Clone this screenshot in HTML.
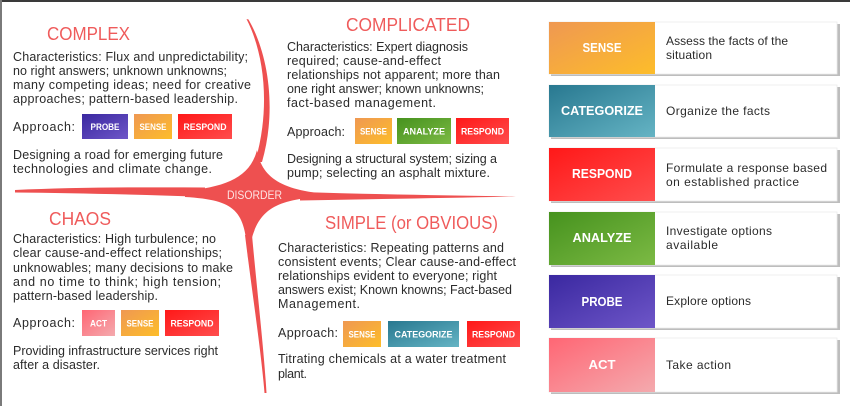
<!DOCTYPE html>
<html><head><meta charset="utf-8">
<style>
html,body{margin:0;padding:0;background:#fff;}
svg{display:block;}
text{font-family:"Liberation Sans",Arial,sans-serif;}
.b{font-size:12.5px;fill:#2b2b2b;}
.t{font-size:18px;fill:#ef5b5b;}
.s{font-size:9px;font-weight:bold;fill:#fff;}
.cl{font-size:13px;font-weight:bold;fill:#fff;}
.cd{font-size:12px;fill:#2b2b2b;}
</style></head>
<body>
<svg width="850" height="406" viewBox="0 0 850 406" xmlns="http://www.w3.org/2000/svg">
<defs>
<linearGradient id="gSense" x1="0" y1="0" x2="1" y2="1"><stop offset="0" stop-color="#ef9852"/><stop offset="1" stop-color="#fdbd2a"/></linearGradient>
<linearGradient id="gCat" x1="0" y1="0" x2="1" y2="1"><stop offset="0" stop-color="#287890"/><stop offset="1" stop-color="#65b4c4"/></linearGradient>
<linearGradient id="gResp" x1="0" y1="0" x2="1" y2="1"><stop offset="0" stop-color="#ff1818"/><stop offset="1" stop-color="#ff4d4d"/></linearGradient>
<linearGradient id="gAn" x1="0" y1="0" x2="1" y2="1"><stop offset="0" stop-color="#46921e"/><stop offset="1" stop-color="#7cba44"/></linearGradient>
<linearGradient id="gPr" x1="0" y1="0" x2="1" y2="1"><stop offset="0" stop-color="#3a28a0"/><stop offset="1" stop-color="#6e56c8"/></linearGradient>
<linearGradient id="gAct" x1="0" y1="0" x2="1" y2="1"><stop offset="0" stop-color="#ff6674"/><stop offset="1" stop-color="#f4aaae"/></linearGradient>
</defs>

<rect x="0" y="0" width="850" height="406" fill="#fff"/>
<rect x="0" y="0" width="850" height="2" fill="#3a3a3a"/>
<rect x="0" y="0" width="2" height="406" fill="#7a7a7a"/>

<!-- Cynefin curves -->
<g fill="#ee5050">
  <!-- top tail -->
  <path d="M246.5,19 C265,55 270.5,110 255,162 L262,162 C277,110 268.5,54 248.5,19.5 Z"/>
  <!-- left tail -->
  <path d="M15,190 C70,187.5 140,187 205,187.5 L205,197 C140,194.5 70,193 15,192.5 Z"/>
  <!-- right tail -->
  <path d="M300,192 C380,194.5 450,195.5 516,196.5 C450,198 380,199 300,200.5 Z"/>
  <!-- bottom tail -->
  <path d="M245,235 C252,292 261,350 264.5,393 L266.5,393 C264,350 257,290 252,235 Z"/>
  <!-- star body -->
  <path d="M185,191 C225,187 250,178 257,150 C262,180 285,192 340,195 C275,199 255,205 248,258 C245,212 238,200 185,197 Z"/>
</g>
<text x="227" y="199" font-size="12px" fill="#fde2e2" textLength="55" lengthAdjust="spacingAndGlyphs">DISORDER</text>

<!-- COMPLEX -->
<text class="t" x="47" y="40" textLength="83" lengthAdjust="spacingAndGlyphs">COMPLEX</text>
<text class="b" x="13" y="61" textLength="235">Characteristics: Flux and unpredictability;</text>
<text class="b" x="13" y="75" textLength="214">no right answers; unknown unknowns;</text>
<text class="b" x="13" y="89" textLength="238">many competing ideas; need for creative</text>
<text class="b" x="13" y="103" textLength="225">approaches; pattern-based leadership.</text>
<text class="b" x="13" y="131" textLength="62">Approach:</text>
<rect x="82" y="114" width="46" height="25" fill="url(#gPr)"/>
<text class="s" x="105" y="130" text-anchor="middle" textLength="29" lengthAdjust="spacingAndGlyphs">PROBE</text>
<rect x="134" y="114" width="38" height="25" fill="url(#gSense)"/>
<text class="s" x="153" y="130" text-anchor="middle" textLength="27" lengthAdjust="spacingAndGlyphs">SENSE</text>
<rect x="178" y="114" width="54" height="25" fill="url(#gResp)"/>
<text class="s" x="205" y="130" text-anchor="middle" textLength="43" lengthAdjust="spacingAndGlyphs">RESPOND</text>
<text class="b" x="13" y="159" textLength="210">Designing a road for emerging future</text>
<text class="b" x="13" y="173" textLength="199">technologies and climate change.</text>

<!-- COMPLICATED -->
<text class="t" x="346" y="31" textLength="124" lengthAdjust="spacingAndGlyphs">COMPLICATED</text>
<text class="b" x="287" y="51" textLength="181">Characteristics: Expert diagnosis</text>
<text class="b" x="287" y="65" textLength="154">required; cause-and-effect</text>
<text class="b" x="287" y="79" textLength="213">relationships not apparent; more than</text>
<text class="b" x="287" y="93" textLength="197">one right answer; known unknowns;</text>
<text class="b" x="287" y="107" textLength="149">fact-based management.</text>
<text class="b" x="287" y="136" textLength="58">Approach:</text>
<rect x="355" y="118" width="37" height="26" fill="url(#gSense)"/>
<text class="s" x="373.5" y="134.5" text-anchor="middle" textLength="27" lengthAdjust="spacingAndGlyphs">SENSE</text>
<rect x="397" y="118" width="54" height="26" fill="url(#gAn)"/>
<text class="s" x="424" y="134.5" text-anchor="middle" textLength="42" lengthAdjust="spacingAndGlyphs">ANALYZE</text>
<rect x="456" y="118" width="53" height="26" fill="url(#gResp)"/>
<text class="s" x="482.5" y="134.5" text-anchor="middle" textLength="43" lengthAdjust="spacingAndGlyphs">RESPOND</text>
<text class="b" x="287" y="163" textLength="210">Designing a structural system; sizing a</text>
<text class="b" x="287" y="177" textLength="203">pump; selecting an asphalt mixture.</text>

<!-- CHAOS -->
<text class="t" x="49" y="225" textLength="62" lengthAdjust="spacingAndGlyphs">CHAOS</text>
<text class="b" x="13" y="243" textLength="203">Characteristics: High turbulence; no</text>
<text class="b" x="13" y="257" textLength="209">clear cause-and-effect relationships;</text>
<text class="b" x="13" y="272" textLength="220">unknowables; many decisions to make</text>
<text class="b" x="13" y="286" textLength="208">and no time to think; high tension;</text>
<text class="b" x="13" y="300" textLength="145">pattern-based leadership.</text>
<text class="b" x="13" y="327" textLength="62">Approach:</text>
<rect x="82" y="310" width="33" height="26" fill="url(#gAct)"/>
<text class="s" x="98.5" y="326.5" text-anchor="middle" textLength="17" lengthAdjust="spacingAndGlyphs">ACT</text>
<rect x="121" y="310" width="38" height="26" fill="url(#gSense)"/>
<text class="s" x="140" y="326.5" text-anchor="middle" textLength="27" lengthAdjust="spacingAndGlyphs">SENSE</text>
<rect x="165" y="310" width="54" height="26" fill="url(#gResp)"/>
<text class="s" x="192" y="326.5" text-anchor="middle" textLength="43" lengthAdjust="spacingAndGlyphs">RESPOND</text>
<text class="b" x="13" y="355" textLength="205">Providing infrastructure services right</text>
<text class="b" x="13" y="369" textLength="87">after a disaster.</text>

<!-- SIMPLE -->
<text class="t" x="325" y="229" textLength="173" lengthAdjust="spacingAndGlyphs">SIMPLE (or OBVIOUS)</text>
<text class="b" x="278" y="252" textLength="226">Characteristics: Repeating patterns and</text>
<text class="b" x="278" y="266" textLength="238">consistent events; Clear cause-and-effect</text>
<text class="b" x="278" y="280" textLength="219">relationships evident to everyone; right</text>
<text class="b" x="278" y="294" textLength="234">answers exist; Known knowns; Fact-based</text>
<text class="b" x="278" y="308" textLength="82">Management.</text>
<text class="b" x="278" y="337" textLength="60">Approach:</text>
<rect x="343" y="321" width="38" height="26" fill="url(#gSense)"/>
<text class="s" x="362" y="337.5" text-anchor="middle" textLength="27" lengthAdjust="spacingAndGlyphs">SENSE</text>
<rect x="388" y="321" width="71" height="26" fill="url(#gCat)"/>
<text class="s" x="423.5" y="337.5" text-anchor="middle" textLength="58" lengthAdjust="spacingAndGlyphs">CATEGORIZE</text>
<rect x="467" y="321" width="53" height="26" fill="url(#gResp)"/>
<text class="s" x="493.5" y="337.5" text-anchor="middle" textLength="43" lengthAdjust="spacingAndGlyphs">RESPOND</text>
<text class="b" x="278" y="363" textLength="228">Titrating chemicals at a water treatment</text>
<text class="b" x="278" y="378" textLength="29">plant.</text>

<!-- Right cards -->
<g>
  <rect x="551" y="24" width="289" height="52" fill="#bdbdbd"/>
  <rect x="549" y="22" width="288" height="52" fill="#fff" stroke="#ececec" stroke-width="0.8"/>
  <rect x="549" y="22" width="106" height="52" fill="url(#gSense)"/>
  <text class="cl" x="602" y="52" text-anchor="middle" textLength="39" lengthAdjust="spacingAndGlyphs">SENSE</text>
  <text class="cd" x="666" y="45" textLength="122">Assess the facts of the</text>
  <text class="cd" x="666" y="59" textLength="46">situation</text>

  <rect x="551" y="87" width="289" height="52" fill="#bdbdbd"/>
  <rect x="549" y="85" width="288" height="52" fill="#fff" stroke="#ececec" stroke-width="0.8"/>
  <rect x="549" y="85" width="106" height="52" fill="url(#gCat)"/>
  <text class="cl" x="602" y="115" text-anchor="middle" textLength="82" lengthAdjust="spacingAndGlyphs">CATEGORIZE</text>
  <text class="cd" x="666" y="115" textLength="104">Organize the facts</text>

  <rect x="551" y="150" width="289" height="53" fill="#bdbdbd"/>
  <rect x="549" y="148" width="288" height="53" fill="#fff" stroke="#ececec" stroke-width="0.8"/>
  <rect x="549" y="148" width="106" height="53" fill="url(#gResp)"/>
  <text class="cl" x="602" y="178" text-anchor="middle" textLength="60" lengthAdjust="spacingAndGlyphs">RESPOND</text>
  <text class="cd" x="666" y="172" textLength="161">Formulate a response based</text>
  <text class="cd" x="666" y="186" textLength="133">on established practice</text>

  <rect x="551" y="214" width="289" height="53" fill="#bdbdbd"/>
  <rect x="549" y="212" width="288" height="53" fill="#fff" stroke="#ececec" stroke-width="0.8"/>
  <rect x="549" y="212" width="106" height="53" fill="url(#gAn)"/>
  <text class="cl" x="602" y="242" text-anchor="middle" textLength="59" lengthAdjust="spacingAndGlyphs">ANALYZE</text>
  <text class="cd" x="666" y="235" textLength="106">Investigate options</text>
  <text class="cd" x="666" y="249" textLength="52">available</text>

  <rect x="551" y="277" width="289" height="53" fill="#bdbdbd"/>
  <rect x="549" y="275" width="288" height="53" fill="#fff" stroke="#ececec" stroke-width="0.8"/>
  <rect x="549" y="275" width="106" height="53" fill="url(#gPr)"/>
  <text class="cl" x="602" y="306" text-anchor="middle" textLength="41" lengthAdjust="spacingAndGlyphs">PROBE</text>
  <text class="cd" x="666" y="305" textLength="85">Explore options</text>

  <rect x="551" y="340" width="289" height="54" fill="#bdbdbd"/>
  <rect x="549" y="338" width="288" height="54" fill="#fff" stroke="#ececec" stroke-width="0.8"/>
  <rect x="549" y="338" width="106" height="54" fill="url(#gAct)"/>
  <text class="cl" x="602" y="369" text-anchor="middle" textLength="27" lengthAdjust="spacingAndGlyphs">ACT</text>
  <text class="cd" x="666" y="369" textLength="65">Take action</text>
</g>
</svg>
</body></html>
